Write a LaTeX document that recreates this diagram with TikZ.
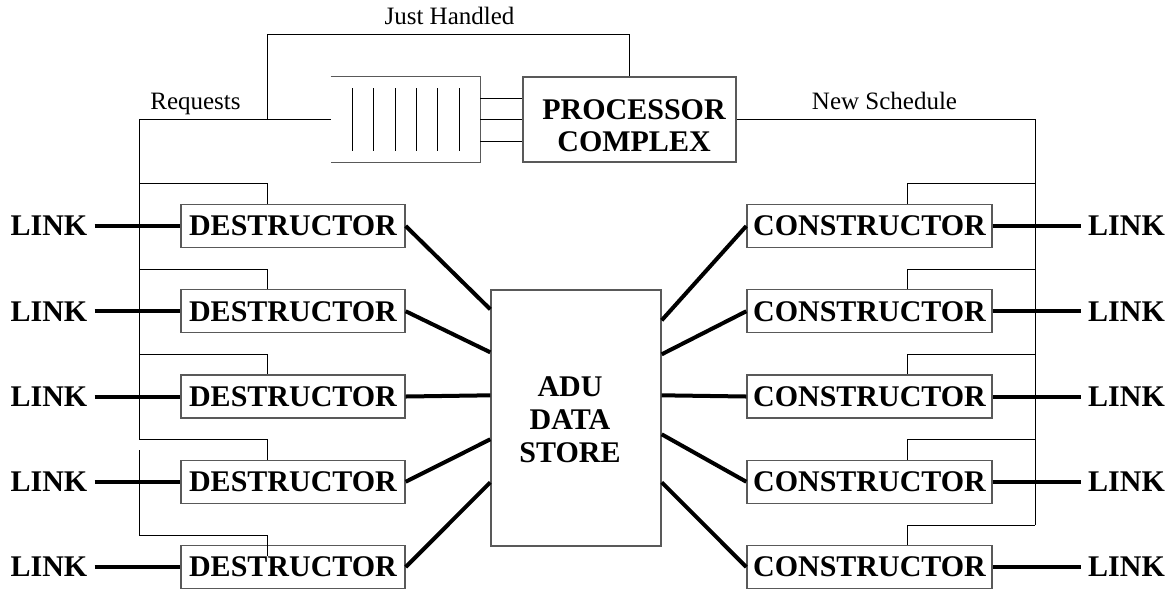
\documentclass[tikz,border=0pt]{standalone}
\usepackage{fontspec}
\setmainfont{Liberation Serif}
\usepackage{pgf,tikz}
\usetikzlibrary{calc}

\begin{document}
\begin{tikzpicture}[x=0.5pt,y=-0.5pt,
    unit/.style={draw=black!65,line width=0.7pt,inner sep=0pt,minimum height=21.5pt,
      font=\fontsize{15}{16.5}\selectfont\bfseries},
    wire/.style={line width=0.5pt},
    fat/.style={line width=2pt},
    bigtext/.style={inner sep=0pt,align=center,font=\fontsize{15}{16}\selectfont\bfseries},
    linktext/.style={inner sep=3.5pt,font=\fontsize{15}{16}\selectfont\bfseries},
    tag/.style={anchor=base,inner sep=0pt,font=\fontsize{12.5}{14}\selectfont}]
    \useasboundingbox (0,0) rectangle (1176,590);

    % processor and its queue
    \node[unit,minimum width=106.5pt,minimum height=42.5pt] (proc) at (629.5,119.5) {};
    \node[bigtext] (proct) at (634,126) {PROCESSOR\\COMPLEX};
    \node[minimum width=74.5pt,minimum height=42.5pt,inner sep=0pt] (queue) at (405.5,119.5) {};
    \draw[draw=black!65,line width=0.7pt] (queue.north west) -- (queue.north east) -- (queue.south east) -- (queue.south west);
    \foreach \x in {352,373,395,416,437,459}
      \draw[wire] (\x,88) -- (\x,151);
    \foreach \y in {98,119.5,141}
      \draw[wire] (queue.east |- 0,\y) -- (proc.west |- 0,\y);

    % data store
    \node[unit,minimum width=85pt,minimum height=128pt] (adu) at (576,418) {};
    \node[bigtext,font=\fontsize{15}{16.5}\selectfont\bfseries] (adut) at (570,420) {ADU\\DATA\\STORE};

    % destructors, constructors and links
    \foreach \i in {1,...,5}
    {
      \pgfmathsetmacro\yy{226+85.25*(\i-1)}
      \node[unit,minimum width=112pt] (d\i) at (293,\yy) {DESTRUCTOR};
      \node[unit,minimum width=122.5pt] (c\i) at (869.5,\yy) {CONSTRUCTOR};
      \node[linktext] (ll\i) at (49,\yy) {LINK};
      \node[linktext] (rl\i) at (1126.5,\yy) {LINK};
      \draw[fat] (ll\i) -- (d\i);
      \draw[fat] (c\i) -- (rl\i);
    }
    \foreach \i/\o in {1/20,2/63,3/106,4/150,5/193}
      \draw[fat] (d\i.east) -- ($(adu.north west)+(0,\o)$);
    \foreach \i/\o in {1/31,2/65,3/106,4/145,5/193}
      \draw[fat] ($(adu.north east)+(0,\o)$) -- (c\i.west);

    % request bus on the left
    \coordinate (ltop) at (139,119.5);
    \coordinate (jh) at (267,119.5);
    \draw[wire] (queue.west) -- (ltop) -- (139,439);
    \foreach \i/\by in {1/183,2/269,3/354,4/439}
    {
      \coordinate (lt\i) at (139,\by);
      \draw[wire] (lt\i) -| ($(d\i.north)+(-26,0)$);
    }
    \coordinate (lt5) at (139,535);
    \draw[wire] (139,450) -- (lt5) -| ($(d5.north)+(-26,11)$);

    % just handled loop
    \draw[wire] (jh) -- (267,34) -| (proc.north);

    % schedule bus on the right
    \coordinate (rtop) at (1035,119.5);
    \draw[wire] (proc.east) -- (rtop) -- (1035,525);
    \foreach \i/\by in {1/183,2/269,3/354,4/439,5/525}
    {
      \coordinate (rt\i) at (1035,\by);
      \draw[wire] (rt\i) -| ($(c\i.north)+(37.5,0)$);
    }

    % labels
    \node[tag] (jhl) at (449.5,24) {Just Handled};
    \node[tag] (req) at (195.5,109) {Requests};
    \node[tag] (nsl) at (884.5,109) {New Schedule};
\end{tikzpicture}
\end{document}
